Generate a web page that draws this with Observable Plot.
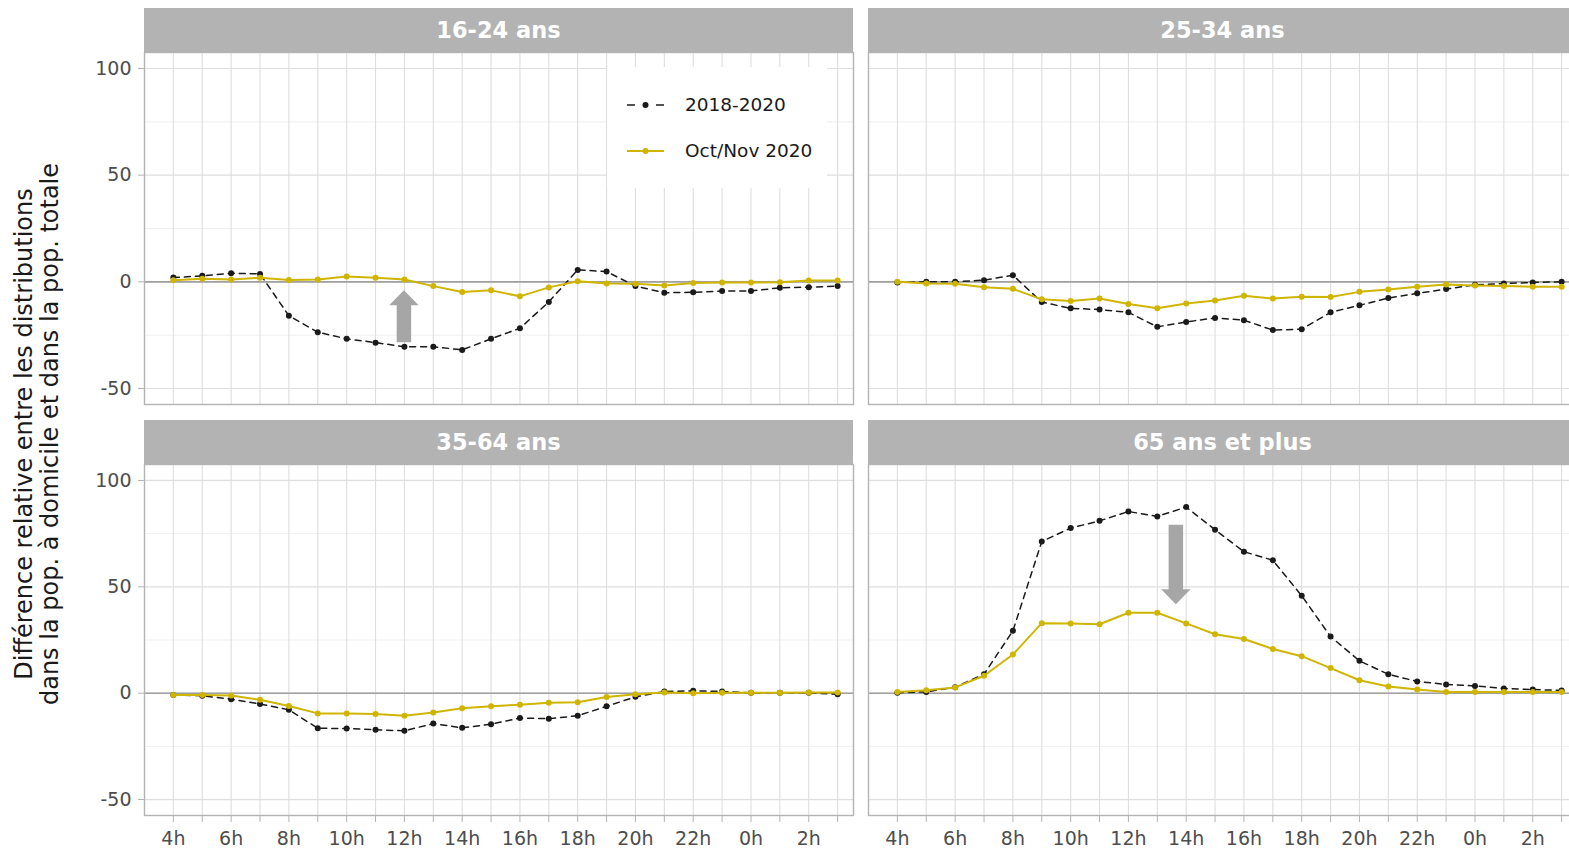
<!DOCTYPE html>
<html><head><meta charset="utf-8">
<script src="https://cdn.jsdelivr.net/npm/d3@7"></script>
<script src="https://cdn.jsdelivr.net/npm/@observablehq/plot@0.6"></script>
<style>
html,body{margin:0;padding:0;background:#fff;overflow:hidden;}
#root{position:relative;width:1569px;height:848px;overflow:hidden;font-family:"DejaVu Sans",sans-serif;}
.strip{position:absolute;background:#B3B3B3;color:#fff;font-weight:bold;font-size:22.5px;display:flex;align-items:center;justify-content:center;font-family:"DejaVu Sans",sans-serif;}
.panel{position:absolute;}
.panel svg{overflow:visible;background:transparent;max-width:none !important;}
</style></head><body><div id="root"></div>
<script>
// ---- data ----
const hours = [4,5,6,7,8,9,10,11,12,13,14,15,16,17,18,19,20,21,22,23,24,25,26,27];
const groups = ["16-24 ans","25-34 ans","35-64 ans","65 ans et plus"];
const seriesNames = ["2018-2020","Oct/Nov 2020"];
const base_16_24 = [2.0,2.8,4.0,3.7,-15.9,-23.6,-26.7,-28.5,-30.4,-30.4,-31.9,-26.7,-21.8,-9.4,5.6,4.8,-2.0,-5.1,-4.9,-4.3,-4.3,-2.8,-2.5,-2.0];
const oct_16_24  = [0.8,1.4,1.1,1.9,0.9,1.1,2.5,1.9,1.1,-2.0,-4.8,-4.0,-6.8,-2.6,0.3,-0.8,-0.9,-1.7,-0.5,-0.3,-0.3,-0.2,0.6,0.6];
const base_25_34 = [-0.3,0,0,0.8,3.1,-9.5,-12.4,-13.0,-14.3,-21.1,-18.8,-16.9,-18.0,-22.6,-22.2,-14.3,-11.0,-7.6,-5.4,-3.4,-1.4,-0.8,-0.3,0];
const oct_25_34  = [0,-0.8,-0.9,-2.5,-3.3,-8.2,-9.0,-7.8,-10.4,-12.4,-10.2,-8.7,-6.5,-7.8,-7.0,-7.1,-4.7,-3.6,-2.3,-1.2,-1.7,-2.0,-2.3,-2.3];
const base_35_64 = [-0.8,-1.2,-2.8,-5.1,-7.8,-16.5,-16.6,-17.2,-17.7,-14.3,-16.3,-14.6,-11.7,-12.0,-10.6,-6.2,-1.7,0.8,1.1,0.8,0.2,0.2,0.2,-0.5];
const oct_35_64  = [-0.8,-0.8,-1.1,-3.1,-6.0,-9.5,-9.5,-9.8,-10.6,-9.1,-7.1,-6.2,-5.4,-4.5,-4.3,-1.8,-0.5,0.3,0,0.2,0.2,0.2,0.3,0.3];
const base_65    = [0.2,0.6,2.8,8.9,29.3,71.3,77.6,81.0,85.4,83.1,87.5,76.8,66.5,62.5,45.8,26.6,15.2,8.9,5.5,4.1,3.4,2.2,1.7,1.3];
const oct_65     = [0.5,1.4,2.7,8.2,18.2,32.9,32.8,32.4,37.8,37.8,32.8,27.7,25.5,20.8,17.4,11.8,6.1,3.1,1.7,0.6,0.6,0.6,0.5,0.6];
const yMajor = [-50,0,50,100];
const yMinor = [-25,25,75];
// arrows (annotation): group, hour, from value, to value
const arrowGroups = ["16-24 ans","65 ans et plus"];
const arrowHour = [12, 13.66];
const arrowFrom = [-28.5, 79];
const arrowTo = [-4.2, 41.6];

const baseSeries = [base_16_24, base_25_34, base_35_64, base_65];
const octSeries = [oct_16_24, oct_25_34, oct_35_64, oct_65];

const BLACK = "#1A1A1A", YELLOW = "#D0B500";
const PW = 709, ML = 60, MR = 2, MT = 2, MB = 45;
const layout = [
  {left:144, top:52, ph:352, showY:true, showX:false, stripTop:7.5},
  {left:868, top:52, ph:352, showY:false, showX:false, stripTop:7.5},
  {left:144, top:464, ph:351, showY:true, showX:true, stripTop:419.5},
  {left:868, top:464, ph:351, showY:false, showX:true, stripTop:419.5}
];

function arrowMark(items) {
  return (index, scales) => {
    const g = d3.create("svg:g");
    for (const a of items) {
      const x = scales.x(a.x), y1 = scales.y(a.from), y2 = scales.y(a.to);
      const dir = Math.sign(y2 - y1);
      const sw = 7.25, hw = 14.75, hl = 15;
      const yb = y2 - dir * hl;
      const pts = [[x - sw, y1],[x + sw, y1],[x + sw, yb],[x + hw, yb],[x, y2],[x - hw, yb],[x - sw, yb]];
      g.append("path").attr("d", "M" + pts.map(p => p.join(",")).join("L") + "Z").attr("fill", "#A6A6A6");
    }
    return g.node();
  };
}

const root = document.getElementById("root");

groups.forEach((grp, gi) => {
  const L = layout[gi];
  const rowsB = hours.map((h, i) => ({h, v: baseSeries[gi][i]}));
  const rowsO = hours.map((h, i) => ({h, v: octSeries[gi][i]}));
  const arrows = [];
  arrowGroups.forEach((ag, k) => { if (ag === grp) arrows.push({x: arrowHour[k], from: arrowFrom[k], to: arrowTo[k]}); });
  const marks = [
    Plot.ruleY(yMinor, {stroke:"#EBEBEB", strokeWidth:0.8}),
    Plot.ruleY(yMajor, {stroke:"#DEDEDE", strokeWidth:1.2}),
    Plot.ruleX(hours, {stroke:"#DEDEDE", strokeWidth:1.1}),
    Plot.ruleY([0], {stroke:"#A0A0A0", strokeWidth:1.6}),
    arrowMark(arrows),
    Plot.line(rowsB, {x:"h", y:"v", stroke:BLACK, strokeWidth:1.5, strokeDasharray:"6,5"}),
    Plot.dot(rowsB, {x:"h", y:"v", fill:BLACK, r:3}),
    Plot.line(rowsO, {x:"h", y:"v", stroke:YELLOW, strokeWidth:2}),
    Plot.dot(rowsO, {x:"h", y:"v", fill:YELLOW, r:3}),
    Plot.frame({stroke:"#B3B3B3", strokeWidth:1.4})
  ];
  if (L.showY) marks.push(Plot.axisY({ticks: yMajor, tickSize:6, tickPadding:7, fontSize:19, label:null,
      stroke:"#B3B3B3", fill:"#4D4D4D", tickFormat: d => String(d)}));
  if (L.showX) marks.push(Plot.axisX({ticks: hours, tickSize:7, tickPadding:9, fontSize:19, label:null,
      stroke:"#B3B3B3", fill:"#4D4D4D", tickFormat: d => (d % 2 === 0 ? (d % 24) + "h" : "")}));
  const W = ML + PW + MR, H = MT + L.ph + MB;
  const chart = Plot.plot({
    width: W, height: H,
    marginLeft: ML, marginRight: MR, marginTop: MT, marginBottom: MB,
    style: {background:"transparent", overflow:"visible", fontFamily:"DejaVu Sans", maxWidth:"none"},
    x: {domain:[3, 27.55], axis:null},
    y: {domain:[-57.5, 107.5], axis:null},
    marks
  });
  chart.setAttribute("width", W);
  chart.setAttribute("height", H);
  chart.style.width = W + "px";
  chart.style.height = H + "px";
  const wrap = document.createElement("div");
  wrap.className = "panel";
  wrap.style.left = (L.left - ML) + "px";
  wrap.style.top = (L.top - MT) + "px";
  wrap.style.width = W + "px";
  wrap.style.height = H + "px";
  wrap.appendChild(chart);
  root.appendChild(wrap);
  const strip = document.createElement("div");
  strip.className = "strip";
  strip.style.left = L.left + "px";
  strip.style.top = L.stripTop + "px";
  strip.style.width = PW + "px";
  strip.style.height = (L.top - L.stripTop) + "px";
  strip.textContent = grp;
  root.appendChild(strip);
});

// legend
const leg = document.createElement("div");
leg.style.cssText = "position:absolute;left:607px;top:67px;width:220px;height:121px;background:#fff;";
leg.innerHTML = `<svg width="220" height="121" style="font-family:'DejaVu Sans';font-size:18.5px">
<line x1="20" x2="28" y1="38" y2="38" stroke="${BLACK}" stroke-width="1.5"/>
<line x1="49" x2="57" y1="38" y2="38" stroke="${BLACK}" stroke-width="1.5"/>
<circle cx="38.5" cy="38" r="3" fill="${BLACK}"/>
<line x1="20" x2="57" y1="84" y2="84" stroke="${YELLOW}" stroke-width="2"/>
<circle cx="38.5" cy="84" r="3" fill="${YELLOW}"/>
<text x="78" y="38" dy="0.35em" fill="#1A1A1A">${seriesNames[0]}</text>
<text x="78" y="84" dy="0.35em" fill="#1A1A1A">${seriesNames[1]}</text>
</svg>`;
root.appendChild(leg);

// y-axis title
const yt = document.createElement("div");
yt.style.cssText = "position:absolute;left:0;top:0;";
yt.innerHTML = `<svg width="70" height="848" style="font-family:'DejaVu Sans';font-size:24px">
<text transform="translate(32,434) rotate(-90)" text-anchor="middle" fill="#1A1A1A">Différence relative entre les distributions</text>
<text transform="translate(58,434) rotate(-90)" text-anchor="middle" fill="#1A1A1A">dans la pop. à domicile et dans la pop. totale</text>
</svg>`;
root.appendChild(yt);
</script></body></html>
